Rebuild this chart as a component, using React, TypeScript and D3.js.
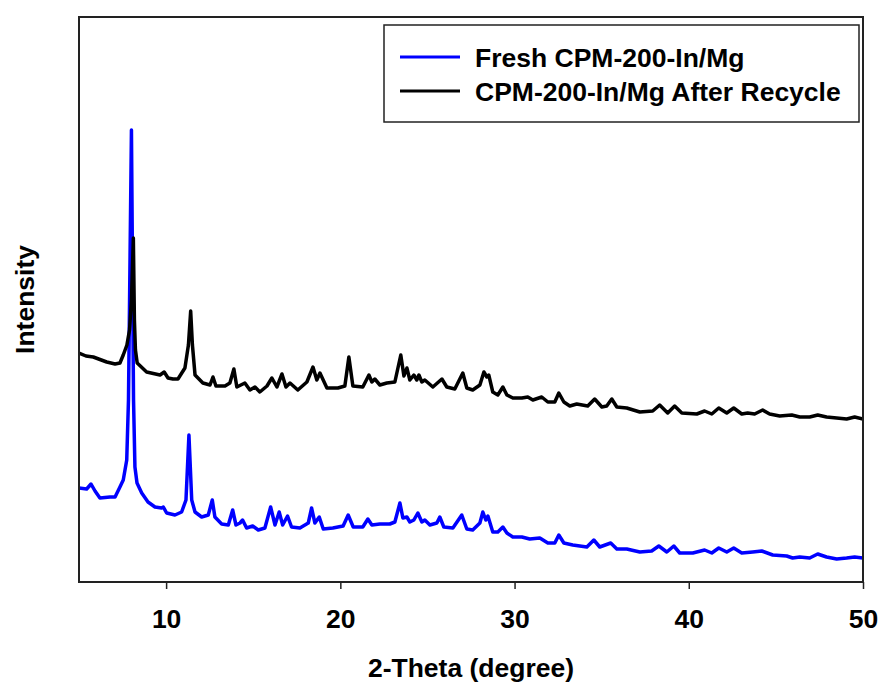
import React, { useEffect, useRef } from 'react';
import * as d3 from 'd3';

// 2-theta positions (degree) and intensities (a.u.)
const recycleTheta = [
  5.0, 5.40, 5.82, 6.59, 7.07, 7.35, 7.54, 7.75, 7.90, 8.01, 8.12, 8.18, 8.24, 8.34, 8.88, 9.65, 9.89, 10.11,
  10.39, 10.68, 11.08, 11.28, 11.41, 11.51, 11.66, 12.11, 12.52, 12.69, 12.86, 13.38, 13.66, 13.89, 14.06,
  14.52, 14.81, 15.10, 15.38, 15.79, 16.07, 16.36, 16.65, 16.88, 17.11, 17.56, 18.08, 18.43, 18.65, 18.83,
  19.23, 19.86, 20.26, 20.49, 20.72, 21.29, 21.64, 21.81, 21.98, 22.27, 22.67, 23.13, 23.47, 23.65, 23.82,
  23.99, 24.22, 24.39, 24.51, 24.68, 24.85, 25.31, 25.83, 26.11, 26.57, 27.03, 27.26, 27.60, 28.01, 28.24,
  28.41, 28.52, 28.75, 29.04, 29.33, 29.56, 29.90, 30.42, 30.76, 31.05, 31.56, 31.91, 32.31, 32.54, 32.83,
  33.17, 33.57, 34.20, 34.60, 35.01, 35.29, 35.58, 35.87, 36.44, 37.19, 37.93, 38.33, 38.79, 39.19, 39.60,
  40.46, 40.91, 41.32, 41.72, 42.18, 42.58, 43.04, 43.38, 43.78, 44.24, 44.64, 45.22, 45.91, 46.37, 46.94,
  47.40, 47.91, 48.49, 49.06, 49.52, 50.0
];
const recycleIntensity = [
  229, 226, 225, 220, 218, 219, 227, 237, 252, 282, 344, 262, 232, 219, 210, 207, 210, 204,
  203, 203, 214, 237, 271, 237, 207, 199, 197, 205, 196, 196, 199, 213, 195,
  199, 192, 195, 190, 196, 204, 195, 208, 195, 199, 192, 200, 215, 202, 209,
  194, 194, 196, 225, 196, 195, 207, 200, 203, 197, 199, 200, 227, 206, 214,
  202, 207, 202, 207, 200, 202, 195, 203, 195, 193, 209, 194, 192, 197, 210,
  205, 207, 190, 187, 195, 187, 184, 184, 185, 182, 185, 180, 180, 189, 180,
  176, 178, 176, 183, 175, 176, 183, 175, 174, 170, 171, 177, 169, 176, 169,
  168, 171, 168, 174, 169, 174, 168, 169, 168, 172, 168, 166, 167, 165, 165,
  167, 165, 164, 163, 165, 163
];

const freshTheta = [
  5.0, 5.44, 5.69, 5.92, 6.20, 6.78, 7.07, 7.35, 7.54, 7.74, 7.84, 8.01, 8.13, 8.21, 8.33, 8.60, 8.96, 9.36,
  9.74, 9.84, 10.03, 10.51, 10.89, 11.14, 11.31, 11.47, 11.66, 12.04, 12.42, 12.65, 12.80, 13.19, 13.57,
  13.82, 14.01, 14.24, 14.39, 14.62, 14.97, 15.29, 15.67, 16.00, 16.25, 16.49, 16.69, 16.97, 17.20, 17.68,
  18.16, 18.35, 18.54, 18.79, 19.02, 19.57, 20.16, 20.45, 20.74, 21.29, 21.58, 21.81, 22.27, 22.84, 23.13,
  23.42, 23.59, 23.82, 23.99, 24.22, 24.45, 24.68, 24.85, 25.14, 25.54, 25.71, 25.94, 26.46, 26.97, 27.26,
  27.60, 28.01, 28.18, 28.35, 28.47, 28.75, 29.04, 29.33, 29.56, 29.90, 30.42, 30.87, 31.45, 31.91, 32.31,
  32.54, 32.83, 33.34, 34.15, 34.55, 34.89, 35.52, 35.87, 36.44, 37.19, 37.87, 38.28, 38.74, 39.14, 39.48,
  40.23, 40.91, 41.32, 41.72, 42.18, 42.58, 43.04, 43.67, 44.19, 44.82, 45.62, 45.96, 46.37, 46.94, 47.40,
  47.91, 48.49, 49.06, 49.52, 50.0
];
const freshIntensity = [
  94, 93, 98, 91, 84, 85, 85, 95, 102, 122, 182, 452, 182, 115, 99, 89, 80, 75,
  74, 75, 69, 67, 70, 82, 147, 82, 70, 65, 67, 82, 65, 58, 57,
  72, 57, 59, 62, 54, 56, 52, 54, 75, 57, 70, 57, 66, 55, 54,
  59, 74, 59, 65, 53, 54, 56, 67, 55, 55, 63, 57, 58, 58, 60,
  79, 64, 65, 60, 62, 69, 60, 62, 57, 59, 65, 55, 54, 67, 53,
  52, 59, 70, 62, 66, 50, 50, 55, 49, 45, 45, 43, 44, 39, 39,
  47, 39, 37, 35, 42, 35, 39, 33, 33, 30, 31, 36, 30, 36, 29,
  29, 32, 29, 34, 30, 34, 29, 30, 31, 27, 26, 24, 25, 24, 28,
  25, 23, 24, 25, 24
];

const seriesNames = ['Fresh CPM-200-In/Mg', 'CPM-200-In/Mg After Recycle'];
const seriesColors = ['#0000ff', '#000000'];
const xTicks = [10, 20, 30, 40, 50];

const XrdChart = () => {
  const svgRef = useRef(null);

  useEffect(() => {
    const svg = d3.select(svgRef.current);
    svg.selectAll('*').remove();

    const left = 79, right = 863, top = 17, bottom = 582;
    const font = '"Liberation Sans", Arial, sans-serif';
    const fontSize = '26.5px';

    const x = d3.scaleLinear().domain([5, 50]).range([left, right]);
    const y = d3.scaleLinear().domain([0, 565]).range([bottom, top]);

    svg.append('defs').append('clipPath').attr('id', 'plot-clip')
      .append('rect')
      .attr('x', left).attr('y', top)
      .attr('width', right - left).attr('height', bottom - top);

    const line = d3.line()
      .x(d => x(d[0]))
      .y(d => y(d[1]));

    const fresh = freshTheta.map((t, i) => [t, freshIntensity[i]]);
    const recycle = recycleTheta.map((t, i) => [t, recycleIntensity[i]]);

    const traces = svg.append('g').attr('clip-path', 'url(#plot-clip)');
    [fresh, recycle].forEach((data, i) => {
      traces.append('path')
        .datum(data)
        .attr('d', line)
        .attr('fill', 'none')
        .attr('stroke', seriesColors[i])
        .attr('stroke-width', 3.5)
        .attr('stroke-linejoin', 'round');
    });

    // frame
    svg.append('rect')
      .attr('x', left).attr('y', top)
      .attr('width', right - left).attr('height', bottom - top)
      .attr('fill', 'none')
      .attr('stroke', '#222')
      .attr('stroke-width', 2);

    // x axis ticks
    const xAxis = svg.append('g')
      .attr('transform', `translate(0, ${bottom})`)
      .call(d3.axisBottom(x).tickValues(xTicks).tickSize(7).tickPadding(20).tickSizeOuter(0));
    xAxis.select('.domain').remove();
    xAxis.selectAll('line').attr('stroke', '#222').attr('stroke-width', 1.5);
    xAxis.selectAll('text')
      .attr('fill', '#000')
      .style('font-family', font)
      .style('font-weight', 'bold')
      .style('font-size', fontSize);

    // x-axis title
    svg.append('text')
      .attr('x', (left + right) / 2)
      .attr('y', 677)
      .attr('text-anchor', 'middle')
      .style('font-family', font)
      .style('font-weight', 'bold')
      .style('font-size', fontSize)
      .text('2-Theta (degree)');

    // y-axis title
    svg.append('text')
      .attr('transform', `translate(34, ${(top + bottom) / 2}) rotate(-90)`)
      .attr('text-anchor', 'middle')
      .style('font-family', font)
      .style('font-weight', 'bold')
      .style('font-size', fontSize)
      .text('Intensity');

    // legend
    const legend = svg.append('g');
    legend.append('rect')
      .attr('x', 384).attr('y', 25)
      .attr('width', 475).attr('height', 97)
      .attr('fill', '#fff')
      .attr('stroke', '#222')
      .attr('stroke-width', 1.5);
    seriesNames.forEach((name, i) => {
      const ly = 57 + i * 34;
      legend.append('line')
        .attr('x1', 400).attr('x2', 460)
        .attr('y1', ly).attr('y2', ly)
        .attr('stroke', seriesColors[i])
        .attr('stroke-width', 3);
      legend.append('text')
        .attr('x', 475).attr('y', ly)
        .attr('dy', '0.36em')
        .style('font-family', font)
        .style('font-weight', 'bold')
        .style('font-size', fontSize)
        .text(name);
    });
  }, []);

  return (
    <svg ref={svgRef} width={880} height={682}
      style={{ position: 'absolute', left: 0, top: 0, background: '#fff' }}></svg>
  );
};

export default function App() {
  return <XrdChart />;
}
